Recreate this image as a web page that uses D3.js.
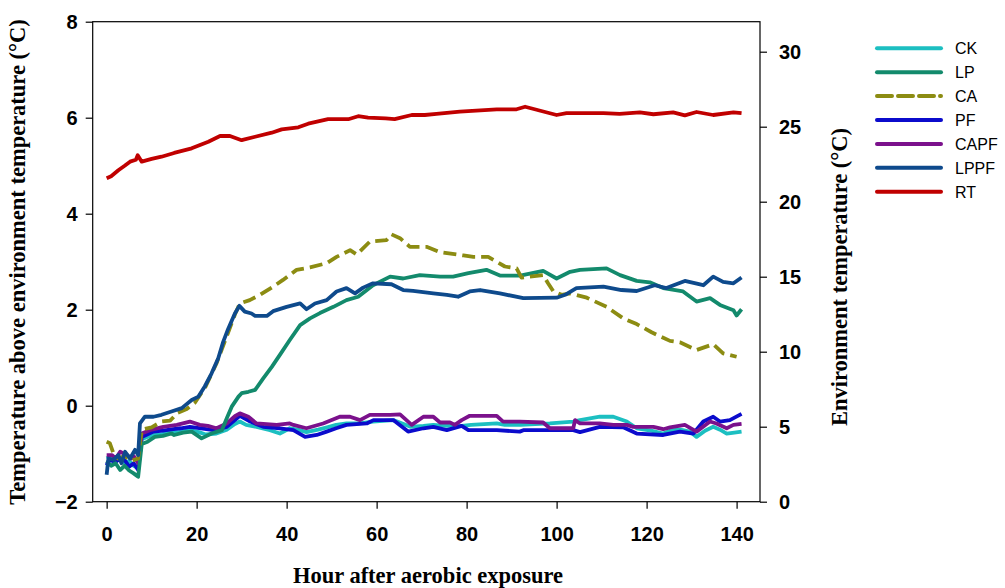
<!DOCTYPE html>
<html>
<head>
<meta charset="utf-8">
<script src="https://cdn.jsdelivr.net/npm/d3@7"></script>
<style>
  body { margin: 0; background: #fff; }
  svg { display: block; }
</style>
</head>
<body>
<div id="chart-area"></div>
<script>
// series: [hour, value]; RT is on the right axis (environment temperature)
var CK = [[0,-1.1],[1,-1.05],[2,-1.15],[3,-1.1],[4,-1.2],[5,-1.15],[6,-1.25],[7,-1.3],[7.8,-0.7],[9,-0.65],[10.4,-0.61],[12,-0.6],[14,-0.55],[16,-0.55],[18.5,-0.51],[20.5,-0.55],[22,-0.6],[24.4,-0.58],[26.7,-0.5],[28.5,-0.38],[29.6,-0.33],[31,-0.4],[33.3,-0.44],[36.3,-0.51],[38.5,-0.58],[40.7,-0.47],[42.5,-0.5],[44.4,-0.55],[47,-0.5],[49,-0.45],[51,-0.4],[53.3,-0.37],[56,-0.37],[59.2,-0.33],[63.7,-0.3],[66,-0.38],[67.5,-0.44],[70.4,-0.42],[72.6,-0.4],[75.6,-0.42],[78.9,-0.42],[81,-0.4],[86.7,-0.37],[88.5,-0.4],[92,-0.4],[98.5,-0.37],[103.7,-0.33],[105.2,-0.3],[109.6,-0.23],[112.6,-0.23],[115.6,-0.33],[117.8,-0.47],[121,-0.52],[123.7,-0.58],[125.5,-0.51],[127.5,-0.5],[129.6,-0.54],[131.1,-0.65],[133,-0.52],[134.8,-0.44],[136.3,-0.5],[137.8,-0.58],[139.5,-0.56],[141.1,-0.54]];

var LP = [[0,-1.15],[1,-1.25],[2,-1.2],[3,-1.34],[4,-1.25],[5,-1.35],[6,-1.41],[7,-1.48],[7.8,-0.8],[9.1,-0.75],[10.7,-0.65],[12.5,-0.63],[14.4,-0.58],[15,-0.61],[17,-0.56],[18.9,-0.54],[21.1,-0.68],[23.3,-0.58],[25.6,-0.51],[26.7,-0.26],[27.8,-0.02],[29.3,0.19],[30,0.26],[31.5,0.29],[33,0.33],[34.8,0.57],[36.7,0.81],[38.5,1.06],[40.7,1.37],[43,1.68],[45.2,1.82],[47.4,1.93],[50.4,2.06],[53.3,2.2],[55.9,2.27],[59.2,2.51],[63,2.69],[65.9,2.65],[69.6,2.72],[74.1,2.69],[77,2.69],[80.4,2.76],[84.4,2.83],[87.4,2.71],[91.9,2.71],[97,2.81],[100,2.65],[103,2.79],[105.2,2.83],[111.1,2.86],[114.1,2.72],[117.8,2.6],[120.7,2.57],[123.7,2.45],[128.1,2.38],[131.1,2.17],[134.1,2.24],[136.3,2.1],[139.3,1.99],[140,1.88],[141.1,2.01]];

var CA = [[0,-0.75],[0.7,-0.78],[1.5,-0.99],[2.5,-1.1],[4,-1.05],[5.5,-1.15],[7,-1.1],[7.8,-0.5],[10,-0.45],[12.2,-0.33],[14.1,-0.31],[15.8,-0.15],[17.8,-0.07],[19.6,0.06],[22,0.4],[24.4,0.88],[26.5,1.4],[28.5,1.9],[29.6,2.13],[31.8,2.2],[34.1,2.31],[37,2.48],[39.2,2.62],[42.2,2.83],[45.2,2.88],[48.9,2.97],[51.1,3.1],[54.1,3.24],[55.6,3.15],[58.5,3.42],[62.2,3.45],[63.3,3.57],[65.2,3.49],[67.4,3.31],[71.1,3.31],[74.1,3.2],[79.3,3.13],[81.5,3.1],[84.8,3.1],[86.7,3.0],[88.5,2.9],[91.1,2.86],[92.2,2.67],[97,2.72],[98.1,2.55],[99.3,2.38],[101.1,2.31],[103,2.34],[106.7,2.25],[111.1,2.06],[114.8,1.82],[117.8,1.7],[121.1,1.53],[125.2,1.35],[127.4,1.32],[131.1,1.16],[134.8,1.28],[137,1.09],[140,1.02]];

var PF = [[0,-1.24],[0.5,-1.13],[2,-1.17],[3,-1.1],[4,-1.13],[5,-1.27],[6,-1.2],[7,-1.34],[7.8,-0.65],[9,-0.6],[10.4,-0.54],[12.5,-0.52],[14.8,-0.49],[16.5,-0.47],[18.5,-0.44],[21,-0.47],[23.7,-0.51],[26.7,-0.44],[28.5,-0.3],[29.6,-0.21],[31.9,-0.33],[34.8,-0.44],[38.5,-0.47],[41.5,-0.51],[44.1,-0.65],[46.7,-0.61],[48.9,-0.54],[51,-0.47],[53.3,-0.4],[57.8,-0.37],[59.3,-0.3],[63.7,-0.3],[67,-0.54],[70.4,-0.47],[72.6,-0.44],[75.6,-0.51],[78.9,-0.42],[80.4,-0.51],[86.7,-0.51],[91.8,-0.54],[92.6,-0.51],[103.7,-0.51],[105.2,-0.55],[109.6,-0.44],[114.8,-0.45],[117.8,-0.58],[123.7,-0.61],[127.4,-0.54],[130.4,-0.58],[132.6,-0.33],[134.8,-0.23],[136.3,-0.33],[138.5,-0.3],[141.1,-0.17]];

var CAPF = [[0,-1.03],[1.2,-1.03],[2,-1.1],[3,-0.96],[4.5,-1.03],[5.5,-1.1],[6,-1.05],[7,-1.2],[7.8,-0.58],[9.6,-0.51],[12.6,-0.44],[15.6,-0.4],[18.5,-0.33],[20.7,-0.4],[22.5,-0.42],[24.4,-0.47],[26.7,-0.37],[28.5,-0.22],[29.6,-0.16],[31.5,-0.23],[33.3,-0.37],[37.8,-0.4],[40.7,-0.37],[41.5,-0.4],[44.4,-0.47],[48.1,-0.37],[51.8,-0.23],[54.1,-0.23],[56.3,-0.3],[58.5,-0.19],[63,-0.19],[65.2,-0.18],[67.8,-0.4],[70.4,-0.23],[72.6,-0.23],[74.1,-0.35],[76.3,-0.35],[77.4,-0.4],[78.9,-0.3],[80.7,-0.21],[86.7,-0.21],[88.1,-0.33],[91.8,-0.33],[97,-0.35],[98.5,-0.47],[103.7,-0.47],[104.1,-0.3],[105.2,-0.37],[109.6,-0.37],[112.6,-0.4],[115.6,-0.4],[117,-0.44],[121.5,-0.44],[123.7,-0.49],[125.2,-0.45],[128.5,-0.4],[131.1,-0.54],[134.1,-0.33],[135.5,-0.37],[137.8,-0.47],[139.3,-0.4],[141.1,-0.38]];

var LPPF = [[0,-1.44],[0.4,-1.1],[1.5,-1.13],[2.6,-1.03],[3.3,-1.2],[4.1,-0.96],[5.2,-1.1],[6.3,-0.92],[7,-1.03],[7.4,-0.37],[8.5,-0.23],[10.4,-0.23],[12.2,-0.19],[14.4,-0.12],[16.7,-0.05],[18.9,0.12],[20.4,0.19],[21.8,0.4],[23.3,0.67],[24.8,0.99],[25.9,1.33],[27,1.6],[28.5,1.92],[29.5,2.08],[30.7,1.96],[32.2,1.92],[33,1.87],[35.6,1.87],[37,1.97],[40,2.06],[43,2.13],[44.4,2.01],[46.3,2.13],[48.9,2.2],[51.1,2.38],[53.3,2.45],[55.2,2.34],[57,2.46],[59.2,2.55],[63.3,2.53],[65.9,2.41],[68.1,2.39],[72.6,2.34],[75.6,2.31],[78.1,2.27],[80.7,2.38],[83,2.41],[87.4,2.34],[92.6,2.24],[100,2.25],[101.9,2.31],[104.4,2.45],[110.4,2.48],[114.4,2.41],[117.8,2.39],[121.8,2.51],[124.4,2.45],[128.5,2.6],[132.6,2.51],[134.8,2.69],[137,2.58],[139.3,2.55],[141.1,2.67]];

var RT = [[0,21.56],[1,21.7],[2.6,22.1],[4,22.4],[5.2,22.67],[6.5,22.8],[6.9,23.1],[7.8,22.67],[10,22.85],[12.2,23.0],[15,23.25],[18.9,23.56],[22.6,24.0],[25.2,24.38],[27.4,24.38],[30,24.1],[33,24.33],[36.7,24.6],[38.9,24.82],[42.6,24.96],[44.8,25.2],[49.2,25.5],[53.7,25.5],[55.9,25.7],[58.1,25.6],[62,25.55],[64,25.5],[67.8,25.78],[70.7,25.78],[73.3,25.85],[78.5,26.0],[86.7,26.16],[91.1,26.16],[93,26.33],[100,25.78],[102.2,25.9],[110.4,25.9],[114,25.85],[118.5,25.96],[121.5,25.83],[125.9,25.96],[128.5,25.76],[131.1,25.98],[134.8,25.78],[139.3,25.96],[141.1,25.9]];

var seriesNames = ["CK", "LP", "CA", "PF", "CAPF", "LPPF", "RT"];
var xTicks = [0, 20, 40, 60, 80, 100, 120, 140];
var yLeftTicks = [-2, 0, 2, 4, 6, 8];
var yRightTicks = [0, 5, 10, 15, 20, 25, 30];

var colors = {
    CK: "#1cbfc1", LP: "#138a6c", CA: "#8c8c12", PF: "#0b0bcc",
    CAPF: "#7b118c", LPPF: "#0e4a8c", RT: "#c00000"
};
var dataByName = { CK: CK, LP: LP, CA: CA, PF: PF, CAPF: CAPF, LPPF: LPPF, RT: RT };

var margin = { left: 92.7, top: 21.7 };
var width = 760 - 92.7;
var height = 501.7 - 21.7;

var svg = d3.select("#chart-area")
    .append("svg")
    .attr("width", 1005)
    .attr("height", 588);

var group = svg.append("g")
    .attr("transform", "translate(" + margin.left + "," + margin.top + ")");

var x = d3.scaleLinear().domain([-3.1, 145.2]).range([0, width]);
var y = d3.scaleLinear().domain([-2, 8]).range([height, 0]);
var y2 = d3.scaleLinear().domain([0, 32]).range([height, 0]);

// stacking order bottom -> top, LPPF sits over CA like the original
var order = ["CK", "PF", "CAPF", "LP", "CA", "LPPF", "RT"];
order.forEach(function (name) {
    var sc = name == "RT" ? y2 : y;
    var line = d3.line()
        .x(function (d) { return x(d[0]); })
        .y(function (d) { return sc(d[1]); });
    group.append("path")
        .datum(dataByName[name])
        .attr("d", line)
        .attr("fill", "none")
        .attr("stroke", colors[name])
        .attr("stroke-width", 3.8)
        .attr("stroke-linejoin", "round")
        .attr("stroke-dasharray", name == "CA" ? "13,6" : null);
});

// frame
group.append("rect")
    .attr("width", width)
    .attr("height", height)
    .attr("fill", "none")
    .attr("stroke", "#000")
    .attr("stroke-width", 1.2);

var tickFont = "'Liberation Sans', Arial, sans-serif";

var xAxis = group.append("g")
    .attr("transform", "translate(0," + height + ")")
    .call(d3.axisBottom(x).tickValues(xTicks).tickSize(7).tickPadding(18));
var yAxis = group.append("g")
    .call(d3.axisLeft(y).tickValues(yLeftTicks).tickSize(7).tickPadding(8));
var yAxis2 = group.append("g")
    .attr("transform", "translate(" + width + ",0)")
    .call(d3.axisRight(y2).tickValues(yRightTicks).tickSize(7).tickPadding(12));

[xAxis, yAxis, yAxis2].forEach(function (a) {
    a.select(".domain").remove();
    a.selectAll("line").attr("stroke", "#000").attr("stroke-width", 1.2);
    a.selectAll("text")
        .attr("font-family", tickFont)
        .attr("font-weight", "bold")
        .attr("font-size", "20px")
        .attr("fill", "#000");
});

// axis titles
var titleFont = "'Liberation Serif', 'Times New Roman', serif";
svg.append("text")
    .attr("x", 428)
    .attr("y", 583)
    .attr("text-anchor", "middle")
    .attr("font-family", titleFont)
    .attr("font-weight", "bold")
    .attr("font-size", "22.5px")
    .text("Hour after aerobic exposure");

svg.append("text")
    .attr("transform", "translate(25,262) rotate(-90)")
    .attr("text-anchor", "middle")
    .attr("font-family", titleFont)
    .attr("font-weight", "bold")
    .attr("font-size", "22.5px")
    .text("Temperature above environment temperature (°C)");

svg.append("text")
    .attr("transform", "translate(847,277) rotate(-90)")
    .attr("text-anchor", "middle")
    .attr("font-family", titleFont)
    .attr("font-weight", "bold")
    .attr("font-size", "22.5px")
    .text("Environment temperature (°C)");

// legend
var legend = svg.append("g").attr("transform", "translate(877,48.3)");
seriesNames.forEach(function (name, i) {
    var row = legend.append("g").attr("transform", "translate(0," + (i * 23.9) + ")");
    row.append("line")
        .attr("x1", 0).attr("x2", 64)
        .attr("stroke", colors[name])
        .attr("stroke-width", 4)
        .attr("stroke-linecap", "round")
        .attr("stroke-dasharray", name == "CA" ? "15,6" : null);
    row.append("text")
        .attr("x", 78)
        .attr("y", 6)
        .attr("font-family", tickFont)
        .attr("font-size", "16px")
        .text(name);
});
</script>
</body>
</html>
